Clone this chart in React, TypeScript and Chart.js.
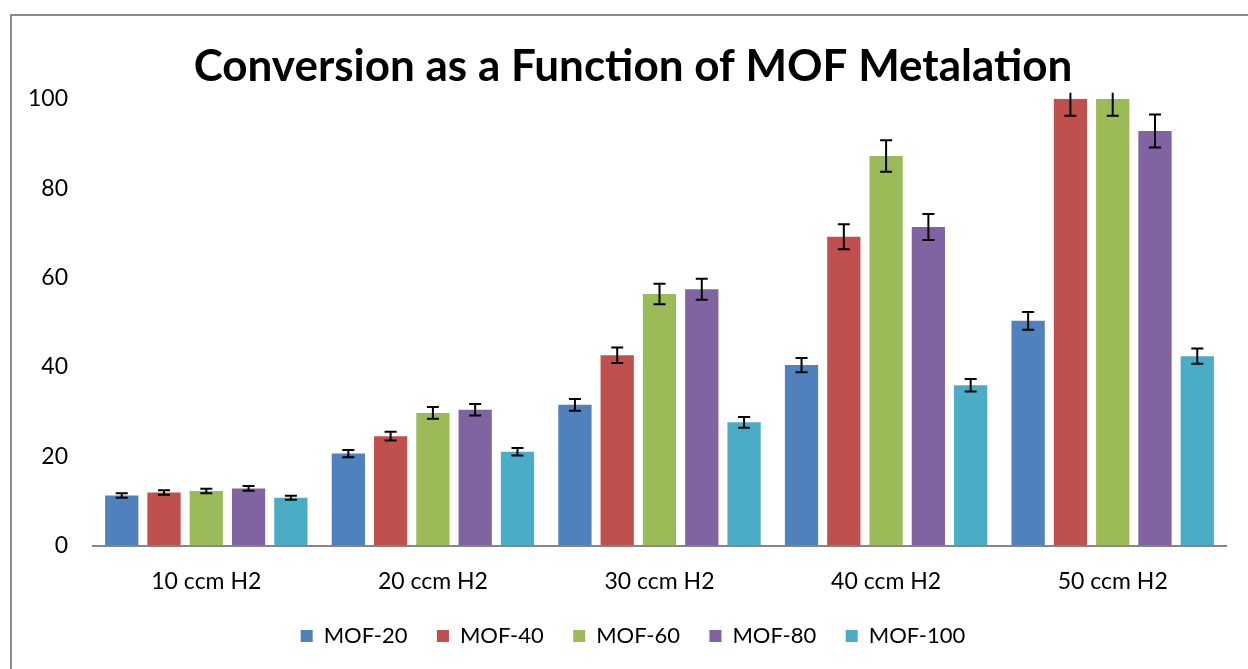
import React, { useEffect, useRef } from "react";
import { Chart, registerables } from "chart.js";

Chart.register(...registerables);

const titleText = "Conversion as a Function of MOF Metalation";
const categories = ["10 ccm H2", "20 ccm H2", "30 ccm H2", "40 ccm H2", "50 ccm H2"];
const seriesNames = ["MOF-20", "MOF-40", "MOF-60", "MOF-80", "MOF-100"];
const seriesColors = ["#4F81BD", "#C0504D", "#9BBB59", "#8064A2", "#4BACC6"];

const mof20 = [11.2, 20.6, 31.5, 40.4, 50.3];
const mof40 = [11.9, 24.5, 42.6, 69.1, 100];
const mof60 = [12.2, 29.7, 56.3, 87.2, 100];
const mof80 = [12.8, 30.4, 57.4, 71.3, 92.8];
const mof100 = [10.7, 21.0, 27.6, 35.9, 42.4];

const mof20Err = [0.5, 0.8, 1.3, 1.6, 2.0];
const mof40Err = [0.5, 1.0, 1.75, 2.8, 3.8];
const mof60Err = [0.5, 1.3, 2.3, 3.55, 3.8];
const mof80Err = [0.55, 1.3, 2.35, 2.9, 3.7];
const mof100Err = [0.45, 0.85, 1.2, 1.4, 1.7];

const yMin = 0;
const yMax = 100;
const yStep = 20;

const seriesValues = [mof20, mof40, mof60, mof80, mof100];
const seriesErrors = [mof20Err, mof40Err, mof60Err, mof80Err, mof100Err];

const FONT = "Lato, 'Open Sans', sans-serif";

const errorBarPlugin = {
  id: "errorBars",
  afterDatasetsDraw(chart: any) {
    const { ctx, chartArea, scales } = chart;
    const y = scales.y;
    ctx.save();
    ctx.beginPath();
    ctx.rect(
      chartArea.left,
      chartArea.top - 6,
      chartArea.right - chartArea.left,
      chartArea.bottom - chartArea.top + 6
    );
    ctx.clip();
    ctx.strokeStyle = "#000000";
    ctx.lineWidth = 2;
    chart.data.datasets.forEach((ds: any, i: number) => {
      const meta = chart.getDatasetMeta(i);
      const errs: number[] = ds.errors || [];
      meta.data.forEach((bar: any, j: number) => {
        const v = ds.data[j];
        const e = errs[j] || 0;
        const x = bar.x;
        const yHi = y.getPixelForValue(v + e);
        const yLo = y.getPixelForValue(v - e);
        ctx.beginPath();
        ctx.moveTo(x, yHi);
        ctx.lineTo(x, yLo);
        ctx.moveTo(x - 6, yHi);
        ctx.lineTo(x + 6, yHi);
        ctx.moveTo(x - 6, yLo);
        ctx.lineTo(x + 6, yLo);
        ctx.stroke();
      });
    });
    ctx.restore();
  },
};

export default function App() {
  const ref = useRef<HTMLCanvasElement | null>(null);

  useEffect(() => {
    if (!ref.current) return;
    const chart = new Chart(ref.current, {
      type: "bar",
      data: {
        labels: categories,
        datasets: seriesNames.map((name, i) => ({
          label: name,
          data: seriesValues[i],
          errors: seriesErrors[i],
          backgroundColor: seriesColors[i],
          borderWidth: 0,
          barPercentage: 0.787,
          categoryPercentage: 0.933,
        })) as any,
      },
      options: {
        animation: false,
        responsive: false,
        devicePixelRatio: 1,
        layout: { padding: { left: 18, right: 0, top: 0, bottom: 12 } },
        plugins: {
          title: {
            display: true,
            text: titleText,
            color: "#000000",
            font: { family: FONT, size: 44, weight: "bold" },
            padding: { top: 40, bottom: 6 },
          },
          legend: {
            display: true,
            position: "bottom",
            labels: {
              color: "#000000",
              font: { family: FONT, size: 22 },
              boxWidth: 12,
              boxHeight: 12,
              padding: 29.4,
            },
          },
          tooltip: { enabled: false },
        },
        scales: {
          x: {
            grid: { display: false, drawTicks: false },
            border: { display: true, color: "#868686", width: 2 },
            ticks: { color: "#000000", font: { family: FONT, size: 23 }, padding: 22 },
            afterFit: (s: any) => {
              s.height = 50;
            },
          },
          y: {
            min: yMin,
            max: yMax,
            grid: { display: false, drawTicks: false },
            border: { display: false },
            ticks: {
              stepSize: yStep,
              color: "#000000",
              font: { family: FONT, size: 23 },
              padding: 25,
            },
            afterFit: (s: any) => {
              s.width = 75;
            },
          },
          yRight: {
            type: "linear",
            position: "right",
            display: true,
            grid: { display: false, drawTicks: false },
            border: { display: false },
            ticks: { display: false },
            afterFit: (s: any) => {
              s.width = 22;
            },
          },
        },
      } as any,
      plugins: [errorBarPlugin],
    });
    return () => chart.destroy();
  }, []);

  return (
    <div
      style={{
        position: "fixed",
        left: 0,
        top: 0,
        width: 1248,
        height: 669,
        overflow: "hidden",
        background: "#ffffff",
      }}
    >
      <div
        style={{
          position: "absolute",
          left: 10,
          top: 14,
          width: 1300,
          height: 700,
          border: "2px solid #8a8a8a",
          boxSizing: "border-box",
        }}
      />
      <canvas
        ref={ref}
        width={1248}
        height={669}
        style={{ position: "absolute", left: 0, top: 0, width: 1248, height: 669, display: "block" }}
      />
    </div>
  );
}
